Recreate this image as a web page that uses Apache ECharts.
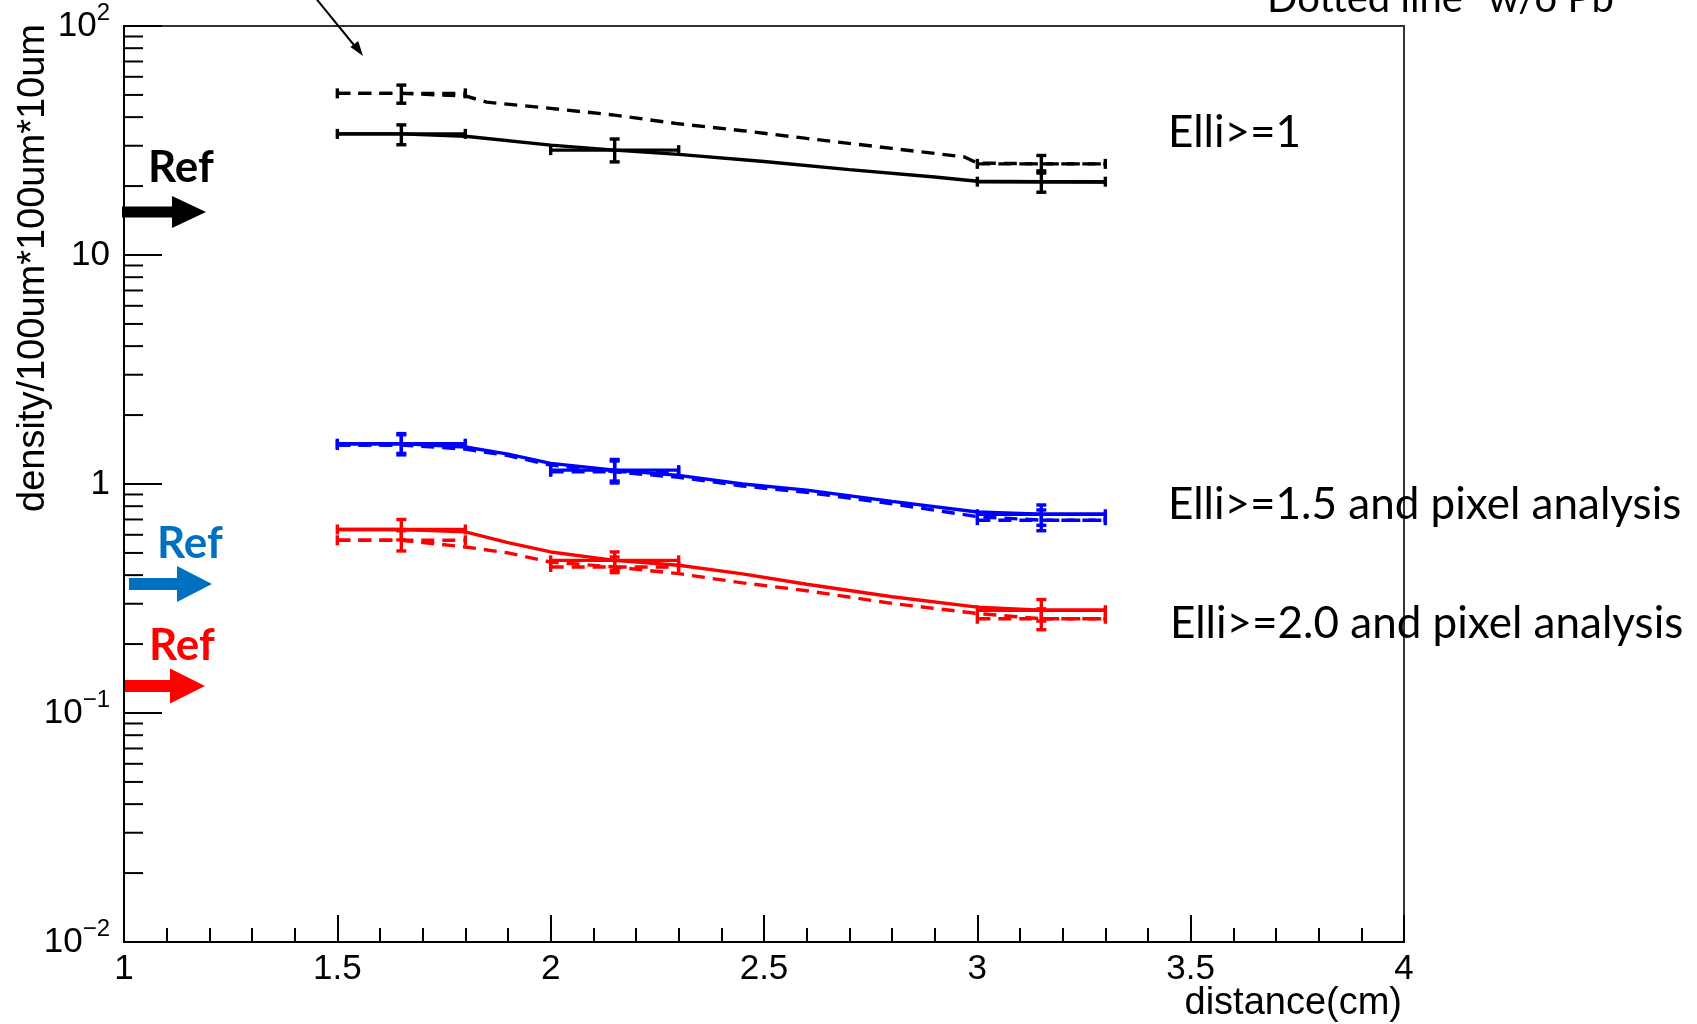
<!DOCTYPE html>
<html><head><meta charset="utf-8">
<script src="https://cdn.jsdelivr.net/npm/echarts@6/dist/echarts.min.js"></script>
<style>html,body{margin:0;padding:0;background:#fff;}#c{width:1697px;height:1024px;}</style>
</head><body><div id="c"></div>
<script>
// ---- data ----
const xTickValues = [1, 1.5, 2, 2.5, 3, 3.5, 4];
const yMinorTicks = [0.02,0.03,0.04,0.05,0.06,0.07,0.08,0.09,0.2,0.3,0.4,0.5,0.6,0.7,0.8,0.9,2,3,4,5,6,7,8,9,20,30,40,50,60,70,80,90];

const blackSolid = [[1.5,33.8],[1.65,33.8],[1.8,33.0],[2.0,30.2],[2.15,28.7],[2.3,27.5],[2.5,25.6],[2.7,23.6],[2.9,21.9],[3.0,21.0],[3.15,20.9],[3.3,20.8]];
const blackDashed = [[1.5,50.8],[1.65,50.8],[1.8,49.5],[1.85,46.5],[2.0,43.7],[2.15,40.8],[2.3,37.4],[2.45,34.9],[2.6,32.3],[2.8,29.2],[2.97,26.8],[3.0,25.2],[3.15,25.0],[3.3,25.0]];
const blueSolid = [[1.5,1.50],[1.65,1.50],[1.8,1.45],[1.9,1.35],[2.0,1.23],[2.15,1.15],[2.3,1.09],[2.45,1.00],[2.6,0.94],[2.8,0.84],[3.0,0.755],[3.15,0.738],[3.3,0.738]];
const blueDashed = [[1.5,1.48],[1.65,1.48],[1.8,1.42],[1.9,1.33],[2.0,1.21],[2.15,1.13],[2.3,1.07],[2.45,0.98],[2.6,0.92],[2.8,0.82],[3.0,0.72],[3.15,0.695],[3.3,0.695]];
const redSolid = [[1.5,0.633],[1.65,0.633],[1.8,0.618],[1.9,0.555],[2.0,0.505],[2.15,0.464],[2.3,0.442],[2.45,0.405],[2.6,0.365],[2.8,0.322],[3.0,0.29],[3.15,0.281],[3.3,0.281]];
const redDashed = [[1.5,0.568],[1.65,0.568],[1.8,0.531],[1.9,0.50],[2.0,0.456],[2.15,0.434],[2.3,0.406],[2.45,0.37],[2.6,0.342],[2.8,0.301],[3.0,0.272],[3.15,0.258],[3.3,0.258]];

// error bars: [xCenter, xLow, xHigh, y, yLow, yHigh]
const blackSolidErr = [[1.65,1.5,1.8,33.8,30.3,37.0],[2.15,2.0,2.3,28.7,25.5,32.1],[3.15,3.0,3.3,20.9,18.8,23.3]];
const blackDashedErr = [[1.65,1.5,1.8,50.8,46.0,55.2],[3.15,3.0,3.3,25.0,22.8,27.2]];
const blueSolidErr = [[1.65,1.5,1.8,1.50,1.36,1.66],[2.15,2.0,2.3,1.15,1.03,1.28],[3.15,3.0,3.3,0.738,0.66,0.81]];
const blueDashedErr = [[1.65,1.5,1.8,1.48,1.34,1.64],[2.15,2.0,2.3,1.13,1.01,1.26],[3.15,3.0,3.3,0.695,0.625,0.77]];
const redSolidErr = [[1.65,1.5,1.8,0.633,0.57,0.70],[2.15,2.0,2.3,0.464,0.42,0.505],[3.15,3.0,3.3,0.281,0.252,0.313]];
const redDashedErr = [[1.65,1.5,1.8,0.568,0.51,0.625],[2.15,2.0,2.3,0.434,0.41,0.48],[3.15,3.0,3.3,0.258,0.231,0.285]];

// ---- chart ----
const chart = echarts.init(document.getElementById('c'), null, {renderer:'canvas'});
const DASH = [13, 8];
const LW = 3.4;

function lineSeries(data, color, dashed) {
  return {type:'line', data:data, symbol:'none', showSymbol:false, smooth:false, silent:true,
    lineStyle:{color:color, width:LW, type: dashed ? DASH : 'solid'}, z:3};
}
function errSeries(data, color, dashed) {
  return {type:'custom', data:data, silent:true, z:4, clip:false,
    encode:{x:[0,1,2], y:[3,4,5]},
    renderItem:function(params, api){
      const xc=api.value(0), xl=api.value(1), xh=api.value(2), y=api.value(3), yl=api.value(4), yh=api.value(5);
      const pL=api.coord([xl,y]), pR=api.coord([xh,y]), pT=api.coord([xc,yh]), pB=api.coord([xc,yl]);
      const cap=5, st={stroke:color, lineWidth:LW};
      const hst = dashed ? {stroke:color, lineWidth:LW, lineDash:DASH} : st;
      return {type:'group', children:[
        {type:'line', shape:{x1:pL[0],y1:pL[1],x2:pR[0],y2:pR[1]}, style:hst},
        {type:'line', shape:{x1:pT[0],y1:pT[1],x2:pB[0],y2:pB[1]}, style:st},
        {type:'line', shape:{x1:pT[0]-cap,y1:pT[1],x2:pT[0]+cap,y2:pT[1]}, style:st},
        {type:'line', shape:{x1:pB[0]-cap,y1:pB[1],x2:pB[0]+cap,y2:pB[1]}, style:st},
        {type:'line', shape:{x1:pL[0],y1:pL[1]-cap,x2:pL[0],y2:pL[1]+cap}, style:st},
        {type:'line', shape:{x1:pR[0],y1:pR[1]-cap,x2:pR[0],y2:pR[1]+cap}, style:st}
      ]};
    }};
}
const minorTickSeries = {type:'custom', silent:true, z:5, clip:false,
  data: yMinorTicks.map(v => [xTickValues[0], v]),
  encode:{x:0, y:1},
  renderItem:function(params, api){
    const p = api.coord([api.value(0), api.value(1)]);
    return {type:'line', shape:{x1:p[0], y1:p[1], x2:p[0]+19, y2:p[1]}, style:{stroke:'#000', lineWidth:2}};
  }};

const AX = 'Liberation Sans, Arial, sans-serif';
const ANN = 'Lato, sans-serif';

function arrowPoints(x0, xh, x1, yc, shaftH, headH) {
  return [[x0,yc-shaftH/2],[xh,yc-shaftH/2],[xh,yc-headH/2],[x1,yc],[xh,yc+headH/2],[xh,yc+shaftH/2],[x0,yc+shaftH/2]];
}

const option = {
  animation:false,
  backgroundColor:'#fff',
  grid:{left:124, top:26, width:1280, height:916, show:true, borderColor:'#333', borderWidth:2, backgroundColor:'transparent', outerBoundsMode:'none', containLabel:false},
  xAxis:{type:'value', min:1, max:4, interval:0.5,
    axisLine:{show:true, onZero:false, lineStyle:{color:'#000', width:2}},
    axisTick:{show:true, inside:true, length:27, lineStyle:{color:'#000', width:2}},
    minorTick:{show:true, splitNumber:5, length:14, lineStyle:{color:'#000', width:2}},
    splitLine:{show:false},
    axisLabel:{show:true, color:'#000', fontFamily:AX, fontSize:35, margin:10,
      formatter:function(v){return String(v);}}},
  yAxis:{type:'log', logBase:10, min:0.01, max:100,
    axisLine:{show:true, onZero:false, lineStyle:{color:'#000', width:2}},
    axisTick:{show:true, inside:true, length:38, lineStyle:{color:'#000', width:2}},
    minorTick:{show:false},
    splitLine:{show:false},
    axisLabel:{show:true, color:'#000', fontFamily:AX, fontSize:35, margin:14,
      formatter:function(v){
        const e = Math.round(Math.log10(v));
        if (e === 0) return '1';
        if (e === 1) return '10';
        return '10{s|' + (e < 0 ? '\u2212' : '') + Math.abs(e) + '}';
      },
      rich:{s:{fontFamily:AX, fontSize:24, color:'#000', padding:[0,0,26,0]}}}},
  series:[
    minorTickSeries,
    lineSeries(blackSolid,'#000',false),
    lineSeries(blackDashed,'#000',true),
    lineSeries(blueSolid,'#0000ff',false),
    lineSeries(blueDashed,'#0000ff',true),
    lineSeries(redSolid,'#ff0000',false),
    lineSeries(redDashed,'#ff0000',true),
    errSeries(blackSolidErr,'#000',false),
    errSeries(blackDashedErr,'#000',true),
    errSeries(blueSolidErr,'#0000ff',false),
    errSeries(blueDashedErr,'#0000ff',true),
    errSeries(redSolidErr,'#ff0000',false),
    errSeries(redDashedErr,'#ff0000',true)
  ],
  graphic:[
    {type:'text', x:34, y:24, rotation:Math.PI/2, style:{text:'density/100um*100um*10um', font:'38px '+AX, fill:'#000', align:'right', verticalAlign:'middle'}},
    {type:'text', x:1402, y:1004, style:{text:'distance(cm)', font:'38px '+AX, fill:'#000', align:'right', verticalAlign:'middle'}},
    {type:'line', shape:{x1:314,y1:-4,x2:358,y2:50}, style:{stroke:'#000', lineWidth:2}},
    {type:'polygon', shape:{points:[[363,56],[350.4,47.1],[358.2,40.9]]}, style:{fill:'#000'}},
    {type:'text', x:1267, y:-1, style:{text:'Dotted line "w/o Pb"', font:'40px '+ANN, fill:'#000', align:'left', verticalAlign:'middle'}},
    {type:'text', x:1168, y:133, style:{text:'Elli>=1', font:'44px '+ANN, fill:'#000', align:'left', verticalAlign:'middle'}},
    {type:'text', x:1168, y:505, style:{text:'Elli>=1.5 and pixel analysis', font:'44px '+ANN, fill:'#000', align:'left', verticalAlign:'middle'}},
    {type:'text', x:1170, y:624, style:{text:'Elli>=2.0 and pixel analysis', font:'44px '+ANN, fill:'#000', align:'left', verticalAlign:'middle'}},
    {type:'text', x:148, y:168, style:{text:'Ref', font:'bold 44px '+ANN, fill:'#000', align:'left', verticalAlign:'middle'}},
    {type:'polygon', shape:{points:arrowPoints(122,172,206,212,11,32)}, style:{fill:'#000'}},
    {type:'text', x:157, y:544, style:{text:'Ref', font:'bold 44px '+ANN, fill:'#0070C0', align:'left', verticalAlign:'middle'}},
    {type:'polygon', shape:{points:arrowPoints(129,177,212,584,12,36)}, style:{fill:'#0070C0'}},
    {type:'text', x:149, y:646, style:{text:'Ref', font:'bold 44px '+ANN, fill:'#ff0000', align:'left', verticalAlign:'middle'}},
    {type:'polygon', shape:{points:arrowPoints(123,170,205,686,12,35)}, style:{fill:'#ff0000'}}
  ]
};
chart.setOption(option);
</script></body></html>
